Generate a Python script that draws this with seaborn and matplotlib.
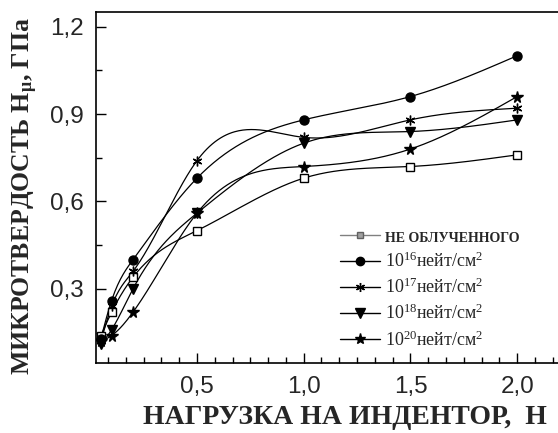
import numpy as np
import pandas as pd
import matplotlib
matplotlib.use("Agg")
import matplotlib.pyplot as plt
import seaborn as sns
from matplotlib.lines import Line2D
from matplotlib.ticker import FuncFormatter, MultipleLocator, AutoMinorLocator

# ---- data ----
load = [0.05, 0.1, 0.2, 0.5, 1.0, 1.5, 2.0]
h_unirr = [0.14, 0.22, 0.34, 0.50, 0.68, 0.72, 0.76]
h_1e16 = [0.13, 0.26, 0.40, 0.68, 0.88, 0.96, 1.10]
h_1e17 = [0.12, 0.24, 0.36, 0.74, 0.82, 0.88, 0.92]
h_1e18 = [0.11, 0.16, 0.30, 0.56, 0.80, 0.84, 0.88]
h_1e20 = [0.12, 0.14, 0.22, 0.56, 0.72, 0.78, 0.96]
series_labels = ["НЕ ОБЛУЧЕННОГО",
                 "10$^{16}$нейт/см$^{2}$",
                 "10$^{17}$нейт/см$^{2}$",
                 "10$^{18}$нейт/см$^{2}$",
                 "10$^{20}$нейт/см$^{2}$"]
x_ticks = [0.5, 1.0, 1.5, 2.0]
y_ticks = [0.3, 0.6, 0.9, 1.2]

series_values = [h_unirr, h_1e16, h_1e17, h_1e18, h_1e20]
markers = ["s", "o", (6, 2, 0), "v", "*"]
msizes = [5.5, 6.5, 7, 7, 8.5]
faces = ["white", "black", "black", "black", "black"]

sns.set_style("ticks")
plt.rcParams["font.family"] = ["Liberation Sans", "DejaVu Sans"]
plt.rcParams["mathtext.fontset"] = "custom"
plt.rcParams["mathtext.rm"] = "Liberation Serif"
plt.rcParams["mathtext.it"] = "Liberation Serif:italic"
plt.rcParams["mathtext.bf"] = "Liberation Serif:bold"


def natural_spline(x, y, num=300):
    x = np.asarray(x, float)
    y = np.asarray(y, float)
    n = len(x)
    h = np.diff(x)
    A = np.zeros((n, n))
    r = np.zeros(n)
    A[0, 0] = A[-1, -1] = 1.0
    for i in range(1, n - 1):
        A[i, i - 1] = h[i - 1]
        A[i, i] = 2 * (h[i - 1] + h[i])
        A[i, i + 1] = h[i]
        r[i] = 6 * ((y[i + 1] - y[i]) / h[i] - (y[i] - y[i - 1]) / h[i - 1])
    M = np.linalg.solve(A, r)
    xs = np.linspace(x[0], x[-1], num)
    k = np.clip(np.searchsorted(x, xs) - 1, 0, n - 2)
    hk = h[k]
    a = (x[k + 1] - xs) / hk
    b = (xs - x[k]) / hk
    ys = (a * y[k] + b * y[k + 1]
          + ((a ** 3 - a) * M[k] + (b ** 3 - b) * M[k + 1]) * hk ** 2 / 6)
    return xs, ys


fig = plt.figure(figsize=(5.58, 4.33), dpi=100)
ax = fig.add_axes([96 / 558, 1 - 363 / 433, (562 - 96) / 558, 351 / 433])

for vals, lab, mk, ms, fc in zip(series_values, series_labels, markers, msizes, faces):
    xs, ys = natural_spline(load, vals)
    sns.lineplot(x=xs, y=ys, ax=ax, color="black", lw=0.9, sort=False,
                 estimator=None, legend=False)
    ax.plot(load, vals, linestyle="none", marker=mk, markersize=ms,
            markerfacecolor=fc, markeredgecolor="black", markeredgewidth=1.0,
            zorder=3)

ax.set_xlim(0.027, 2.21)
ax.set_ylim(0.046, 1.25)
ax.set_xticks(x_ticks)
ax.set_yticks(y_ticks)
ax.xaxis.set_minor_locator(AutoMinorLocator(6))
ax.yaxis.set_minor_locator(AutoMinorLocator(2))
fmt = FuncFormatter(lambda v, p: f"{v:.1f}".replace(".", ","))
ax.xaxis.set_major_formatter(fmt)
ax.yaxis.set_major_formatter(fmt)
ax.tick_params(which="both", direction="in", width=1.0, color="black",
               top=False, right=False)
ax.tick_params(which="major", length=7, labelsize=17.5, pad=9)
ax.tick_params(which="minor", length=4)
for lbl in ax.get_xticklabels() + ax.get_yticklabels():
    lbl.set_fontfamily("Liberation Sans")
for s in ["left", "bottom", "top"]:
    ax.spines[s].set_linewidth(1.2)
    ax.spines[s].set_color("black")
ax.spines["right"].set_visible(False)

ax.set_xlabel("НАГРУЗКА НА ИНДЕНТОР,  Н", fontfamily="Liberation Serif",
              fontweight="bold", fontsize=20, va="center")
ax.xaxis.set_label_coords((345 - 96) / 466, (363 - 418) / 351)
ax.set_ylabel("МИКРОТВЕРДОСТЬ Н$_{\\mathbf{μ}}$, ГПа", fontfamily="Liberation Serif",
              fontweight="bold", fontsize=18.5, va="center")
ax.yaxis.set_label_coords((25 - 96) / 466, (363 - 196) / 351)

handles = [Line2D([], [], color="#808080", lw=1.0, marker="s", markersize=5,
                  markerfacecolor="#a0a0a0", markeredgecolor="#606060")]
for mk, ms in zip(markers[1:], msizes[1:]):
    handles.append(Line2D([], [], color="black", lw=1.0, marker=mk, markersize=ms - 0.5,
                          markerfacecolor="black", markeredgecolor="black"))
leg = ax.legend(handles, series_labels, loc="upper left",
                bbox_to_anchor=((340 - 96) / 466, (363 - 229) / 351),
                frameon=False, prop={"family": "Liberation Serif", "size": 13},
                handlelength=2.2, handletextpad=0.3, labelspacing=0.38,
                borderpad=0, borderaxespad=0)
t0 = leg.get_texts()[0]
t0.set_fontsize(10)
t0.set_fontweight("bold")

fig.savefig("out.png", dpi=100)
